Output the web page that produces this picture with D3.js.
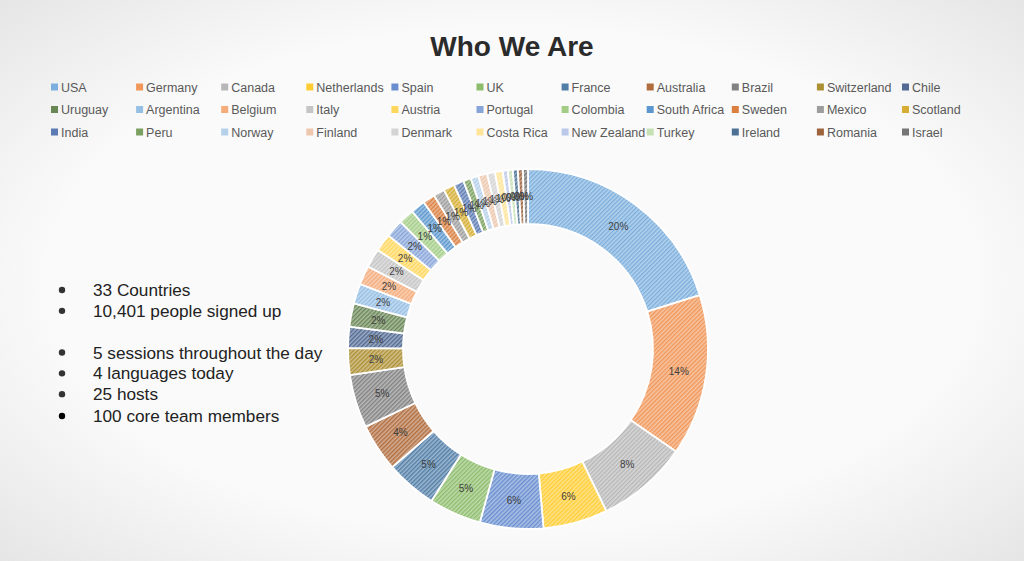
<!DOCTYPE html>
<html>
<head>
<meta charset="utf-8">
<script src="https://cdn.jsdelivr.net/npm/d3@7"></script>
<style>
  body { margin: 0; background: #f7f7f7; }
  svg { display: block; font-family: "Liberation Sans", Arial, sans-serif; }
</style>
</head>
<body>
<svg></svg>
<script>
// Countries, in legend / slice order
const countries = [
  "USA", "Germany", "Canada", "Netherlands", "Spain", "UK", "France", "Australia", "Brazil", "Switzerland", "Chile",
  "Uruguay", "Argentina", "Belgium", "Italy", "Austria", "Portugal", "Colombia", "South Africa", "Sweden", "Mexico", "Scotland",
  "India", "Peru", "Norway", "Finland", "Denmark", "Costa Rica", "New Zealand", "Turkey", "Ireland", "Romania", "Israel"
];

// Share of sign-ups (percent)
const shares = [
  20.2, 14.5, 8.2, 5.8, 5.7, 4.7, 4.6, 4.3, 4.8, 2.4, 1.9,
  2.1, 1.8, 1.7, 1.7, 1.6, 1.6, 1.4, 1.3, 1.1, 1.0, 1.0,
  0.9, 0.7, 0.7, 0.8, 0.7, 0.7, 0.45, 0.45, 0.45, 0.45, 0.45
];

// Office palette colours, one per country
const colors = [
  "#5B9BD5", "#ED7D31", "#A5A5A5", "#FFC000", "#4472C4", "#70AD47", "#255E91", "#9E480E", "#636363", "#997300", "#264478",
  "#43682B", "#7CAFDD", "#F1975A", "#B7B7B7", "#FFCD33", "#698ED0", "#8CC168", "#327DC2", "#D26012", "#848484", "#CC9A00",
  "#335AA1", "#5A8A39", "#A3C4E6", "#E8B99A", "#C9C9C9", "#FFDF80", "#A9BAE3", "#B9D9A2", "#1F4E79", "#843C0C", "#525252"
];

const bullets = [
  "33 Countries",
  "10,401 people signed up",
  "",
  "5 sessions throughout the day",
  "4 languages today",
  "25 hosts",
  "100 core team members"
];

const W = 1024, H = 561;
const svg = d3.select("svg").attr("width", W).attr("height", H);

// Background with a soft vignette, like the slide capture
const defs = svg.append("defs");
const bg = defs.append("radialGradient").attr("id", "bg").attr("cx", "50%").attr("cy", "50%").attr("r", "75%");
bg.append("stop").attr("offset", "60%").attr("stop-color", "#fafafa");
bg.append("stop").attr("offset", "100%").attr("stop-color", "#e2e2e2");
svg.append("rect").attr("width", W).attr("height", H).attr("fill", "url(#bg)");

// Hatched fills for each slice
colors.forEach((c, i) => {
  const p = defs.append("pattern")
    .attr("id", "hatch" + i)
    .attr("patternUnits", "userSpaceOnUse")
    .attr("width", 3).attr("height", 3)
    .attr("patternTransform", "rotate(45)");
  p.append("rect").attr("width", 3).attr("height", 3)
    .attr("fill", d3.interpolateRgb(c, "#ffffff")(0.55));
  p.append("rect").attr("width", 1.4).attr("height", 3)
    .attr("fill", d3.interpolateRgb(c, "#ffffff")(0.2));
});

// Title
svg.append("text")
  .attr("x", 512).attr("y", 56)
  .attr("text-anchor", "middle")
  .style("font-size", "28px")
  .style("font-weight", "bold")
  .style("fill", "#2b2b2b")
  .text("Who We Are");

// Legend: 3 rows x 11 columns
const legendX = d3.scaleLinear().domain([0, 10]).range([51, 902]);
const legendY = d3.scaleLinear().domain([0, 2]).range([87, 132]);
const legend = svg.append("g").selectAll("g")
  .data(countries)
  .join("g")
  .attr("transform", (d, i) => `translate(${legendX(i % 11)}, ${legendY(Math.floor(i / 11))})`);
legend.append("rect")
  .attr("x", 0).attr("y", -3.5)
  .attr("width", 7).attr("height", 7)
  .attr("fill", (d, i) => d3.interpolateRgb(colors[i], "#ffffff")(0.2));
legend.append("text")
  .attr("x", 10).attr("y", 4.5)
  .style("font-size", "12.5px")
  .style("fill", "#595959")
  .text(d => d);

// Donut
const cx = 528, cy = 349;
const outerR = 180, innerR = 125;
const total = d3.sum(shares);
const pie = d3.pie().sort(null).value(d => d)(shares);
const arc = d3.arc().innerRadius(innerR).outerRadius(outerR);
const labelArc = d3.arc().innerRadius((innerR + outerR) / 2).outerRadius((innerR + outerR) / 2);

const donut = svg.append("g").attr("transform", `translate(${cx}, ${cy})`);
donut.selectAll("path")
  .data(pie)
  .join("path")
  .attr("d", arc)
  .attr("fill", (d, i) => `url(#hatch${i})`)
  .attr("stroke", "#ffffff")
  .attr("stroke-width", 1.8);

donut.selectAll("text")
  .data(pie)
  .join("text")
  .attr("transform", d => `translate(${labelArc.centroid(d)})`)
  .attr("text-anchor", "middle")
  .attr("dy", "0.35em")
  .style("font-size", "10px")
  .style("fill", "#404040")
  .text(d => d3.format(".0%")(d.value / total));

// Bullet list on the left
const bulletY = d3.scaleLinear().domain([0, 6]).range([290, 415]);
const list = svg.append("g").selectAll("g")
  .data(bullets)
  .join("g")
  .attr("transform", (d, i) => `translate(0, ${bulletY(i) + (i === 6 ? 1 : 0)})`)
  .filter(d => d !== "");
list.append("circle")
  .attr("cx", 62).attr("cy", 0).attr("r", 3.2)
  .attr("fill", (d, i) => i === 5 ? "#000" : "#333");
list.append("text")
  .attr("x", 93).attr("y", 6)
  .style("font-size", "17.2px")
  .style("fill", "#222")
  .text(d => d);
</script>
</body>
</html>
